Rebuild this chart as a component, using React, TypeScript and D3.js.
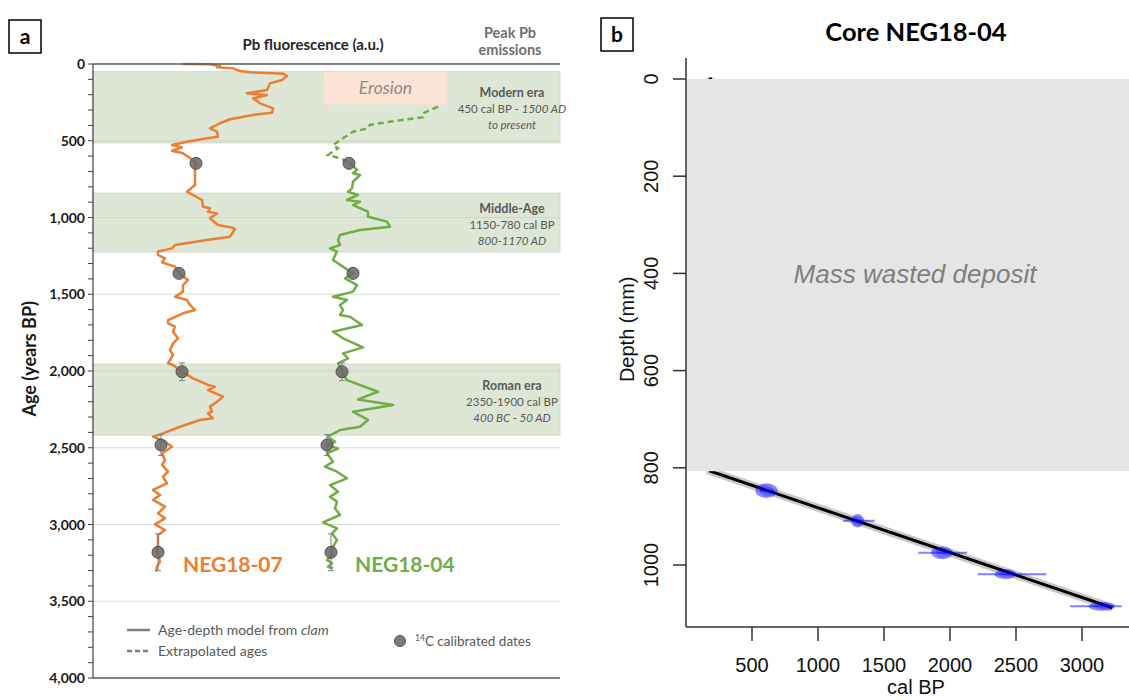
import * as d3 from 'd3';

// ---- panel a: Pb fluorescence vs age ----
const ageTicks = [0, 500, 1000, 1500, 2000, 2500, 3000, 3500, 4000];

// [age BP, Pb a.u.]
const neg0704: [number, number][] = [
  [0, 90], [2, 117], [13, 127], [22, 124], [28, 140], [46, 147], [54, 157], [61, 180], [63, 190], [78, 194],
  [104, 189], [126, 177], [169, 174], [191, 154], [202, 174], [224, 160], [256, 167], [289, 180], [317, 179],
  [332, 160], [360, 137], [386, 127], [419, 117], [441, 124], [474, 125], [484, 114], [506, 94], [528, 79],
  [543, 89], [565, 79], [582, 90], [625, 100], [647, 103], [669, 102], [723, 102], [788, 102], [832, 94],
  [886, 109], [930, 110], [940, 117], [962, 115], [973, 124], [1005, 117], [1049, 125], [1066, 139],
  [1075, 142], [1125, 137], [1147, 114], [1179, 82], [1201, 79], [1222, 65], [1244, 65], [1266, 72],
  [1292, 69], [1320, 82], [1364, 86], [1407, 95], [1440, 90], [1483, 90], [1516, 82], [1537, 94], [1570, 97],
  [1603, 102], [1624, 90], [1668, 75], [1689, 75], [1711, 82], [1744, 80], [1787, 85], [1820, 80], [1863, 77],
  [1896, 80], [1950, 75], [1961, 80], [2005, 89], [2048, 100], [2091, 115], [2102, 122], [2124, 115],
  [2167, 130], [2200, 124], [2232, 117], [2265, 119], [2276, 115], [2308, 120], [2319, 107], [2363, 87],
  [2406, 70], [2428, 60], [2461, 72], [2493, 79], [2537, 69], [2580, 72], [2612, 69], [2656, 75], [2688, 70],
  [2732, 74], [2775, 60], [2808, 67], [2840, 60], [2884, 72], [2927, 65], [2960, 72], [2999, 62], [3036, 72],
  [3069, 65], [3134, 65], [3181, 64], [3242, 67], [3275, 64], [3307, 63],
];

const neg04Extrapolated: [number, number][] = [
  [278, 345], [321, 330], [347, 330], [360, 314], [386, 287], [397, 277], [419, 275], [441, 260], [484, 250],
  [528, 240], [549, 245], [593, 235], [614, 247], [640, 256],
];

const neg04Model: [number, number][] = [
  [640, 256], [690, 264], [712, 260], [723, 267], [767, 260], [810, 259], [832, 255], [853, 265], [886, 254],
  [897, 267], [919, 260], [962, 275], [995, 275], [1027, 294], [1060, 297], [1081, 267], [1114, 247],
  [1147, 245], [1179, 247], [1201, 237], [1222, 244], [1277, 240], [1320, 250], [1364, 260], [1396, 252],
  [1440, 264], [1483, 260], [1516, 240], [1537, 254], [1570, 247], [1603, 250], [1635, 247], [1646, 257],
  [1700, 269], [1744, 240], [1787, 250], [1846, 270], [1885, 250], [1918, 255], [1950, 245], [2005, 249],
  [2059, 254], [2135, 285], [2185, 265], [2222, 300], [2265, 260], [2319, 275], [2363, 267], [2385, 247],
  [2428, 235], [2461, 242], [2482, 234], [2505, 245], [2537, 234], [2591, 240], [2623, 232], [2656, 244],
  [2699, 254], [2743, 237], [2786, 245], [2819, 237], [2851, 244], [2895, 242], [2938, 247], [2986, 230],
  [3025, 244], [3058, 239], [3101, 244], [3155, 239], [3199, 239], [3231, 234], [3253, 239], [3275, 235],
  [3286, 240],
];

// 14C dates
const c14Age = [647, 1364, 2005, 2482, 3181];
const c14Err = [0, 0, 58, 68, 120];
const c14Pb07 = [103, 86, 89, 68, 65];
const c14Pb04 = [256, 260, 249, 234, 238];

// peak Pb emission periods
const bandFrom = [50, 841, 1955];
const bandTo = [514, 1225, 2419];
const bandName = ['Modern era', 'Middle-Age', 'Roman era'];
const bandCalBP = ['450 cal BP - ', '1150-780 cal BP', '2350-1900 cal BP'];
const bandAD = ['1500 AD', '800-1170 AD', '400 BC - 50 AD'];

// ---- panel b: age-depth model ----
const calTicks = [500, 1000, 1500, 2000, 2500, 3000];
const depthTicks = [0, 200, 400, 600, 800, 1000];
const slumpDepth = 807;
const modelAge = [185, 185, 3230];
const modelDepth = [-3, slumpDepth, 1088];
const dateAge = [610, 1300, 1940, 2420, 3150];
const dateDepth = [847, 909, 975, 1019, 1085];
const dateLo = [560, 1190, 1760, 2210, 2910];
const dateHi = [665, 1430, 2130, 2730, 3300];
const dateSpread = [85, 50, 83, 83, 100];
const dateDepthErr = [15, 14, 13, 10, 9];

const ORANGE = '#ed7d31';
const GREEN = '#70ad47';
const CAL = 'Lato, "Open Sans", sans-serif';
const ARIAL = '"Liberation Sans", Arial, sans-serif';

export default function App() {
  const ageY = d3.scaleLinear().domain([0, 4000]).range([64, 678]);
  const pbX = d3.scaleLinear().domain([0, 467]).range([93, 560]);
  const line = d3.line<[number, number]>().x(d => pbX(d[1])).y(d => ageY(d[0]));

  const calX = d3.scaleLinear().domain([0, 3000]).range([686, 1082]);
  const depthY = d3.scaleLinear().domain([0, 1000]).range([79, 565]);
  const bTop = depthY(-43);
  const bBottom = 627;
  const modelPts: [number, number][] = modelAge.map((a, i) => [calX(a), depthY(modelDepth[i])]);
  const modelPath = d3.line()(modelPts) || '';

  return (
    <svg width={1129} height={700} style={{ position: 'absolute', left: 0, top: 0, background: '#fff' }}>
      {/* ---------- panel a ---------- */}
      <rect x={9} y={20} width={32} height={33} fill="none" stroke="#000" strokeWidth={1.5} />
      <text x={25} y={44} textAnchor="middle" fontFamily={CAL} fontWeight="bold" fontSize={21}>a</text>
      <text x={313} y={50} textAnchor="middle" fontFamily={CAL} fontWeight="bold" fontSize={15} fill="#262626">
        Pb fluorescence (a.u.)
      </text>
      <text x={510} y={38} textAnchor="middle" fontFamily={CAL} fontWeight="bold" fontSize={14.5} fill="#6f6f6f">Peak Pb</text>
      <text x={510} y={55} textAnchor="middle" fontFamily={CAL} fontWeight="bold" fontSize={14.5} fill="#6f6f6f">emissions</text>

      {bandFrom.map((f, i) => (
        <rect key={'b' + i} x={pbX(0)} y={ageY(f)} width={pbX(467) - pbX(0)} height={ageY(bandTo[i]) - ageY(f)}
          fill="#dee6d6" stroke="#d2dccb" strokeWidth={1} />
      ))}
      {ageTicks.slice(1, -1).map(t => (
        <line key={'g' + t} x1={pbX(0)} x2={pbX(467)} y1={ageY(t)} y2={ageY(t)} stroke="#c9cec6" strokeOpacity={0.7} strokeWidth={1} />
      ))}

      {/* erosion box */}
      <rect x={pbX(231)} y={ageY(52)} width={pbX(354) - pbX(231)} height={ageY(265) - ageY(52)} fill="#fbe4d6" />
      <text x={(pbX(231) + pbX(354)) / 2} y={ageY(195)} textAnchor="middle" fontFamily={CAL} fontStyle="italic" fontSize={17.5} fill="#8c8c8c">
        Erosion
      </text>

      {/* band labels */}
      {bandFrom.map((f, i) => {
        const cy = ageY((f + bandTo[i]) / 2) + 2;
        return (
          <g key={'l' + i} fontFamily={CAL} fontSize={11.5} fill="#595959" textAnchor="middle">
            <text x={512} y={cy - 12} fontWeight="bold" fontSize={12.5}>{bandName[i]}</text>
            {i === 0 ? (
              <>
                <text x={512} y={cy + 4}>{bandCalBP[i]}<tspan fontStyle="italic">{bandAD[i]}</tspan></text>
                <text x={512} y={cy + 20} fontStyle="italic">to present</text>
              </>
            ) : (
              <>
                <text x={512} y={cy + 4}>{bandCalBP[i]}</text>
                <text x={512} y={cy + 20} fontStyle="italic">{bandAD[i]}</text>
              </>
            )}
          </g>
        );
      })}

      {/* curves */}
      <path d={line(neg0704) || ''} fill="none" stroke={ORANGE} strokeWidth={2.5} strokeLinejoin="round" />
      <path d={line(neg04Extrapolated) || ''} fill="none" stroke={GREEN} strokeWidth={2.5} strokeDasharray="6,4" />
      <path d={line(neg04Model) || ''} fill="none" stroke={GREEN} strokeWidth={2.5} strokeLinejoin="round" />

      {/* dates */}
      {[c14Pb07, c14Pb04].map((pbs, k) => (
        <g key={'d' + k}>
          {c14Age.map((a, i) => (
            <g key={i}>
              {c14Err[i] > 0 && (
                <g stroke="#7f7f7f" strokeWidth={1}>
                  <line x1={pbX(pbs[i])} x2={pbX(pbs[i])} y1={ageY(a - c14Err[i])} y2={ageY(a + c14Err[i])} />
                  <line x1={pbX(pbs[i]) - 3} x2={pbX(pbs[i]) + 3} y1={ageY(a - c14Err[i])} y2={ageY(a - c14Err[i])} />
                  <line x1={pbX(pbs[i]) - 3} x2={pbX(pbs[i]) + 3} y1={ageY(a + c14Err[i])} y2={ageY(a + c14Err[i])} />
                </g>
              )}
              <circle cx={pbX(pbs[i])} cy={ageY(a)} r={6} fill="#6a6a6a" fillOpacity={0.88} stroke="#505050" strokeWidth={1} />
            </g>
          ))}
        </g>
      ))}

      <text x={183} y={572} fontFamily={CAL} fontWeight="bold" fontSize={21} fill={ORANGE}>NEG18-07</text>
      <text x={355} y={572} fontFamily={CAL} fontWeight="bold" fontSize={21} fill={GREEN}>NEG18-04</text>

      {/* axes */}
      <line x1={pbX(0)} x2={pbX(467)} y1={ageY(0)} y2={ageY(0)} stroke="#595959" strokeWidth={1.5} />
      <line x1={pbX(0)} x2={pbX(467)} y1={ageY(4000)} y2={ageY(4000)} stroke="#595959" strokeWidth={1.5} />
      <line x1={pbX(0)} x2={pbX(0)} y1={ageY(0)} y2={ageY(4000)} stroke="#404040" strokeWidth={1.2} />
      {d3.range(0, 4001, 100).map(t => (
        <line key={'t' + t} x1={pbX(0) - 5} x2={pbX(0)} y1={ageY(t)} y2={ageY(t)} stroke="#404040" strokeWidth={1} />
      ))}
      {ageTicks.map(t => (
        <text key={'yl' + t} x={85} y={ageY(t) + 5} textAnchor="end" fontFamily={CAL} fontWeight="bold" fontSize={14} fill="#1a1a1a">
          {d3.format(',')(t)}
        </text>
      ))}
      <text transform={`translate(36,${ageY(1920)}) rotate(-90)`} textAnchor="middle" fontFamily={CAL} fontWeight="bold" fontSize={18} fill="#1a1a1a">
        Age (years BP)
      </text>

      {/* legend */}
      <g fontFamily={CAL} fontSize={14} fill="#595959">
        <line x1={127} x2={150} y1={630} y2={630} stroke="#7f7f7f" strokeWidth={2.5} />
        <text x={158} y={635}>Age-depth model from <tspan fontStyle="italic">clam</tspan></text>
        <line x1={127} x2={150} y1={651} y2={651} stroke="#7f7f7f" strokeWidth={2.5} strokeDasharray="5,3" />
        <text x={158} y={656}>Extrapolated ages</text>
        <circle cx={400} cy={641} r={5.5} fill="#6a6a6a" fillOpacity={0.88} stroke="#505050" />
        <text x={415} y={646} fontSize={13.5}><tspan fontSize={8.5} dy={-5}>14</tspan><tspan dy={5}>C calibrated dates</tspan></text>
      </g>

      {/* ---------- panel b ---------- */}
      <rect x={601} y={18} width={32} height={33} fill="none" stroke="#000" strokeWidth={1.5} />
      <text x={617} y={42} textAnchor="middle" fontFamily={CAL} fontWeight="bold" fontSize={21}>b</text>
      <text x={916} y={41} textAnchor="middle" fontFamily={CAL} fontWeight="bold" fontSize={25.5}>Core NEG18-04</text>

      {/* model envelope + line */}
      <path d={modelPath} fill="none" stroke="#9a9a9a" strokeOpacity={0.55} strokeWidth={8} />
      <path d={modelPath} fill="none" stroke="#000" strokeWidth={3} />

      {/* calibrated dates */}
      {dateAge.map((a, i) => (
        <g key={'cd' + i} fill="#0000ff" stroke="#0000ff">
          <line x1={calX(dateLo[i])} x2={calX(dateHi[i])} y1={depthY(dateDepth[i])} y2={depthY(dateDepth[i])} strokeOpacity={0.5} strokeWidth={2} />
          <ellipse cx={calX(a)} cy={depthY(dateDepth[i])} rx={calX(dateSpread[i]) - calX(0)} ry={depthY(dateDepthErr[i]) - depthY(0)}
            fillOpacity={0.45} stroke="none" />
          <ellipse cx={calX(a)} cy={depthY(dateDepth[i])} rx={(calX(dateSpread[i]) - calX(0)) * 0.6} ry={(depthY(dateDepthErr[i]) - depthY(0)) * 0.8}
            fillOpacity={0.2} stroke="none" />
        </g>
      ))}

      {/* mass wasted deposit */}
      <rect x={calX(0) + 1} y={depthY(0)} width={1129 - calX(0)} height={depthY(slumpDepth) - depthY(0)} fill="#e5e5e5" />
      <text x={915} y={283} textAnchor="middle" fontFamily={ARIAL} fontStyle="italic" fontSize={26} fill="#7f7f7f">
        Mass wasted deposit
      </text>

      {/* axes */}
      <line x1={calX(0)} x2={calX(0)} y1={bTop} y2={bBottom} stroke="#333" strokeWidth={1.5} />
      <line x1={calX(0)} x2={1129} y1={bBottom} y2={bBottom} stroke="#333" strokeWidth={1.5} />
      {depthTicks.map(t => (
        <g key={'dt' + t}>
          <line x1={calX(0) - 13} x2={calX(0)} y1={depthY(t)} y2={depthY(t)} stroke="#333" strokeWidth={1.5} />
          <text transform={`translate(658,${depthY(t)}) rotate(-90)`} textAnchor="middle" fontFamily={ARIAL} fontSize={20} fill="#111">
            {t}
          </text>
        </g>
      ))}
      {calTicks.map(t => (
        <g key={'ct' + t}>
          <line x1={calX(t)} x2={calX(t)} y1={bBottom} y2={bBottom + 14} stroke="#333" strokeWidth={1.5} />
          <text x={calX(t)} y={672} textAnchor="middle" fontFamily={ARIAL} fontSize={20} fill="#111">{t}</text>
        </g>
      ))}
      <text x={916} y={694} textAnchor="middle" fontFamily={ARIAL} fontSize={20} fill="#111">cal BP</text>
      <text transform={`translate(634,${depthY(515)}) rotate(-90)`} textAnchor="middle" fontFamily={ARIAL} fontSize={20} fill="#111">
        Depth (mm)
      </text>
    </svg>
  );
}
